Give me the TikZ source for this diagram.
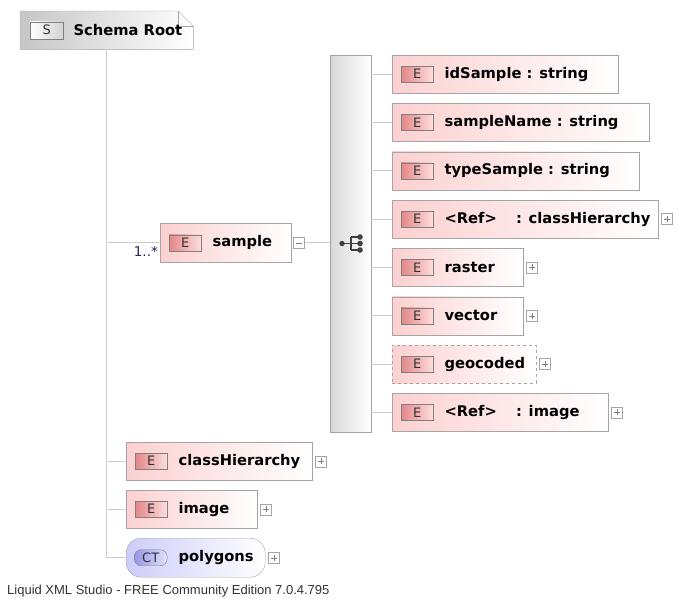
\documentclass[tikz,border=0pt]{standalone}
\usepackage{fontspec}
\setmainfont{DejaVu Sans}
\newfontfamily\footfont{Liberation Sans}
\usetikzlibrary{positioning,shadings}
\definecolor{treeline}{RGB}{205,205,205}
\definecolor{boxline}{RGB}{165,165,165}
\definecolor{elempink}{RGB}{252,208,208}
\definecolor{tagred}{RGB}{228,135,135}
\definecolor{tagpink}{RGB}{252,222,222}
\definecolor{ctblue}{RGB}{205,205,250}
\definecolor{cttag}{RGB}{150,150,230}
\definecolor{occblue}{RGB}{35,35,95}
\tikzset{
  tree/.style={draw=treeline, line width=1pt},
  elem/.style={draw=boxline, left color=elempink, right color=white, minimum height=38pt,
    inner sep=0pt, anchor=north west},
  elemopt/.style={elem, dashed},
  ctype/.style={elem, left color=ctblue, rounded corners=15pt},
  tag/.style={draw=gray, left color=tagred, right color=tagpink, minimum width=32pt,
    minimum height=16pt, inner sep=0pt, font=\fontsize{13}{13}\selectfont, text=black!80,
    anchor=west},
  cttagbox/.style={tag, left color=cttag, right color=ctblue!60, rounded corners=7pt},
  lbl/.style={inner sep=0pt, anchor=west, font=\fontsize{14.7}{14.7}\selectfont\bfseries},
  pm/.style={draw=boxline, fill=white, minimum size=11pt, inner sep=0pt, anchor=west},
  plus/.style={pm, path picture={\draw[gray] (path picture bounding box.center)
    +(-3pt,0) -- +(3pt,0) +(0,-3pt) -- +(0,3pt);}},
  minus/.style={pm, path picture={\draw[gray] (path picture bounding box.center)
    +(-3pt,0) -- +(3pt,0);}}
}
\begin{document}
\begin{tikzpicture}[x=1pt,y=-1pt]
  \useasboundingbox (0,0) rectangle (677,598);
  % schema root
  \node[minimum width=173pt, minimum height=38pt, inner sep=0pt, anchor=north west] (root) at (20,11) {};
  \draw[draw=boxline, left color=gray!45, right color=white] (root.north west) -- ([xshift=-15pt]root.north east)
    -- ([yshift=-15pt]root.north east) -- (root.south east) -- (root.south west) -- cycle;
  \draw[boxline] ([xshift=-15pt]root.north east) -- ([xshift=-15pt,yshift=-15pt]root.north east)
    -- ([yshift=-15pt]root.north east);
  \node[tag, left color=white, right color=gray!35, minimum width=33pt, minimum height=17pt] (rootS)
    [right=10pt of root.west] {S};
  \node[lbl] (rootlbl) [right=10pt of rootS] {Schema Root};

  % top level items
  \node[elem, minimum width=131pt, minimum height=39pt] (sample) at (160,223) {};
  \node[elem, minimum width=186pt] (classh) at (126,442) {};
  \node[elem, minimum width=131pt] (image) at (126,490) {};
  \node[ctype, minimum width=139pt, minimum height=39pt] (polygons) at (126,538) {};
  \foreach \nm/\txt in {sample/sample, classh/classHierarchy, image/image} {
    \node[tag] (\nm-E) [right=9pt of \nm.west] {E};
    \node[lbl] (\nm-lbl) [right=11pt of \nm-E] {\txt};
  }
  \node[cttagbox, minimum width=33pt] (polygons-CT) [right=8pt of polygons.west] {CT};
  \node[lbl] (polygons-lbl) [right=11pt of polygons-CT] {polygons};
  \node[minus] (sample-pm) [right=2pt of sample.east] {};
  \foreach \nm in {classh, image, polygons}
    \node[plus] (\nm-pm) [right=3pt of \nm.east] {};

  % trunk
  \draw[tree] (root.south) -- (root.south |- polygons.west);
  \foreach \nm in {sample, classh, image, polygons}
    \draw[tree] (root.south |- \nm.west) -- (\nm.west);
  \node[anchor=north east, inner sep=0pt, text=occblue, font=\fontsize{13.5}{13.5}\selectfont]
    (occ) at ([xshift=-2pt,yshift=-4pt]sample.west) {1..*};

  % sequence
  \node[draw=boxline, left color=gray!30, right color=white, minimum width=41pt, minimum height=377pt,
    inner sep=0pt, anchor=north west] (seq) at (330,55) {};
  \draw[tree] (sample-pm.east) -- (seq.west |- sample-pm.east);
  \draw[black!75, line width=1.4pt] (342,243.5) -- (351,243.5) (351,237) -- (351,250)
    (351,237) -- (360,237) (351,250) -- (360,250) (351,243.5) -- (360,243.5);
  \fill[black!75] (342,243.5) circle (2.7pt) (360,237) circle (2.8pt) (360,243.5) circle (2.8pt)
    (360,250) circle (2.8pt);

  % children of sample
  \foreach \i/\nm/\w/\st/\pl/\txt in {
      0/idsample/226/elem/0/{idSample : string},
      1/samplename/257/elem/0/{sampleName : string},
      2/typesample/247/elem/0/{typeSample : string},
      3/refclassh/266/elem/1/{<Ref>\hspace{1.3em}: classHierarchy},
      4/raster/131/elem/1/{raster},
      5/vector/131/elem/1/{vector},
      6/geocoded/144/elemopt/1/{geocoded},
      7/refimage/216/elem/1/{<Ref>\hspace{1.3em}: image}} {
    \node[\st, minimum width=\w pt] (\nm) at (392,{55+48.3*\i}) {};
    \node[tag] (\nm-E) [right=9pt of \nm.west] {E};
    \node[lbl] (\nm-lbl) [right=11pt of \nm-E] {\txt};
    \ifnum\pl=1 \node[plus] (\nm-pm) [right=3pt of \nm.east] {}; \fi
    \draw[tree] (seq.east |- \nm.west) -- (\nm.west);
  }

  \node[anchor=west, inner sep=0pt, text=black!80, font=\footfont\fontsize{13}{13}\selectfont]
    (footer) at (7,591) {Liquid XML Studio - FREE Community Edition 7.0.4.795};
\end{tikzpicture}
\end{document}
